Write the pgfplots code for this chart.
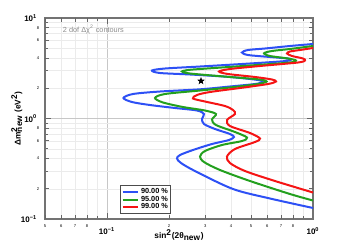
\documentclass[border=0pt]{standalone}
\usepackage{fontspec}
\setmainfont{Liberation Sans}
\usepackage{pgfplots}
\pgfplotsset{compat=1.18}
\definecolor{cblue}{RGB}{45,80,245}
\definecolor{cgreen}{RGB}{35,160,30}
\definecolor{cred}{RGB}{245,20,20}
\pgfdeclareplotmark{fivestar}{%
  \pgfpathmoveto{\pgfpointpolar{90}{\pgfplotmarksize}}%
  \pgfpathlineto{\pgfpointpolar{126}{0.4\pgfplotmarksize}}%
  \pgfpathlineto{\pgfpointpolar{162}{\pgfplotmarksize}}%
  \pgfpathlineto{\pgfpointpolar{198}{0.4\pgfplotmarksize}}%
  \pgfpathlineto{\pgfpointpolar{234}{\pgfplotmarksize}}%
  \pgfpathlineto{\pgfpointpolar{270}{0.4\pgfplotmarksize}}%
  \pgfpathlineto{\pgfpointpolar{306}{\pgfplotmarksize}}%
  \pgfpathlineto{\pgfpointpolar{342}{0.4\pgfplotmarksize}}%
  \pgfpathlineto{\pgfpointpolar{18}{\pgfplotmarksize}}%
  \pgfpathlineto{\pgfpointpolar{54}{0.4\pgfplotmarksize}}%
  \pgfpathclose\pgfusepathqfillstroke}
\begin{document}
\begin{tikzpicture}
\begin{axis}[
  scale only axis, width=160.8pt, height=120.6pt,
  xmode=log, ymode=log, xmin=0.05, xmax=1, ymin=0.1, ymax=10,
  axis line style={draw=black!55, line width=0.9pt},
  tick align=inside,
  tick style={black!60, line width=0.4pt},
  major tick length=3.6pt, minor tick length=2pt,
  xtick={0.1,1}, xticklabels={10\textsuperscript{−1},10\textsuperscript{0}},
  ytick={0.1,1,10}, yticklabels={10\textsuperscript{−1},10\textsuperscript{0},10\textsuperscript{1}},
  minor xtick={0.06,0.07,0.08,0.09,0.2,0.3,0.4,0.5,0.6,0.7,0.8,0.9},
  minor ytick={0.2,0.3,0.4,0.5,0.6,0.7,0.8,0.9,2,3,4,5,6,7,8,9},
  grid=both,
  major grid style={black!22, line width=0.4pt},
  minor grid style={black!8, line width=0.3pt},
  tick label style={font=\fontsize{4.8}{5}\selectfont\bfseries},
  xticklabel style={yshift=-1.5pt},
  yticklabel style={xshift=-1.2pt},
  extra x ticks={0.05,0.06,0.07,0.08,0.2,0.3,0.4,0.5,0.6,0.7,0.8},
  extra x tick labels={5,6,7,8,2,3,4,5,6,7,8},
  extra x tick style={grid=none, major tick length=2.4pt,
     tick label style={font=\fontsize{2.5}{3}\selectfont, yshift=1.5pt}},
  extra y ticks={0.2,0.4,0.6,0.8,2,4,6,8},
  extra y tick labels={2,4,6,8,2,4,6,8},
  extra y tick style={grid=none, major tick length=2.4pt,
     tick label style={font=\fontsize{2.5}{3}\selectfont, xshift=1.2pt}},
  xlabel={sin\textsuperscript{2}(2θ\textsubscript{new})},
  ylabel={Δm\rlap{\textsuperscript{2}}\textsubscript{new} (eV\textsuperscript{2})},
  label style={font=\fontsize{5}{6}\selectfont\bfseries},
  xlabel style={at={(axis description cs:0.5,-0.08)}, anchor=center},
  ylabel style={at={(axis description cs:-0.105,0.5)}, anchor=center},
  legend style={at={(0.28,0.025)}, anchor=south west, draw=black!70, line width=0.6pt,
     fill=white, font=\fontsize{4.4}{4.6}\selectfont\bfseries, inner xsep=0.6pt, inner ysep=0.4pt,
     row sep=-2pt, nodes={inner sep=1pt}, /tikz/every even column/.append style={column sep=0pt}},
  legend cell align=left,
  legend image code/.code={\draw[#1, line width=1.2pt] (0pt,0pt) -- (9.5pt,0pt);},
]
\coordinate (sw) at (rel axis cs:0,0);
\coordinate (ne) at (rel axis cs:1,1);
\addplot[cblue, line width=1.2pt, smooth] coordinates {
(1.0,5.512)(0.7733,5.265)(0.5848,4.972)(0.4836,4.804)(0.4522,4.536)(0.4836,4.283)(0.6184,4.091)(0.7562,3.954)(0.7821,3.865)(0.7395,3.734)(0.4945,3.526)(0.2828,3.291)(0.1912,3.144)(0.1653,3.003)(0.1808,2.836)(0.2529,2.741)(0.3954,2.588)(0.5408,2.416)(0.5719,2.307)(0.5229,2.204)(0.3954,2.082)(0.2828,1.952)(0.1808,1.856)(0.1337,1.753)(0.1202,1.600)(0.1322,1.459)(0.1617,1.362)(0.2138,1.272)(0.2734,1.201)(0.2957,1.109)(0.2891,0.9886)(0.2957,0.8816)(0.3344,0.7862)(0.3954,0.7012)(0.4135,0.6546)(0.3911,0.6109)(0.3234,0.5576)(0.2615,0.4859)(0.2261,0.4333)(0.2187,0.3999)(0.2287,0.3607)(0.2674,0.3003)(0.4089,0.1988)(0.6184,0.1600)(1.0,0.1287)};
\addlegendentry{90.00 \%}
\addplot[cgreen, line width=1.2pt, smooth] coordinates {
(1.0,5.265)(0.7733,4.916)(0.6323,4.696)(0.5783,4.454)(0.6184,4.187)(0.7562,3.954)(0.8269,3.777)(0.7733,3.608)(0.4945,3.367)(0.2828,3.108)(0.2473,3.038)(0.2312,2.936)(0.2529,2.804)(0.3954,2.588)(0.5530,2.444)(0.5947,2.334)(0.5408,2.204)(0.3954,2.034)(0.2828,1.899)(0.1912,1.753)(0.1710,1.600)(0.1870,1.443)(0.2338,1.301)(0.2990,1.201)(0.3381,1.109)(0.3234,0.9774)(0.3381,0.8616)(0.4181,0.7339)(0.4782,0.6472)(0.4522,0.5971)(0.3616,0.5450)(0.2990,0.4749)(0.2828,0.4187)(0.2957,0.3691)(0.3536,0.3073)(0.4945,0.2388)(0.7733,0.1773)(1.0,0.1528)};
\addlegendentry{95.00 \%}
\addplot[cred, line width=1.2pt, smooth] coordinates {
(1.0,5.029)(0.8647,4.804)(0.7733,4.642)(0.7479,4.434)(0.7908,4.187)(0.8942,3.954)(0.9145,3.777)(0.8457,3.608)(0.5530,3.330)(0.3954,3.108)(0.3497,2.936)(0.3867,2.772)(0.5229,2.588)(0.6323,2.444)(0.6613,2.334)(0.6047,2.204)(0.4422,2.011)(0.3162,1.835)(0.2734,1.713)(0.2615,1.581)(0.2990,1.476)(0.3739,1.331)(0.4089,1.215)(0.4181,1.109)(0.3824,0.9662)(0.3954,0.8420)(0.4945,0.7176)(0.5530,0.6325)(0.5229,0.5839)(0.4181,0.4972)(0.3824,0.4187)(0.3954,0.3607)(0.4676,0.3003)(0.6539,0.2388)(1.0,0.1835)};
\addlegendentry{99.00 \%}
\addplot[only marks, mark=fivestar, mark size=1.8pt, black, forget plot] coordinates {(0.286,2.361)};
\node[anchor=west, text=black!45, font=\fontsize{4.4}{5}\selectfont] at (rel axis cs:0.045,0.943) {2 dof Δχ\textsuperscript{2} contours};
\end{axis}
\pgfresetboundingbox
\path ([shift={(-27pt,-16.2pt)}]sw) rectangle ([shift={(19.8pt,10.8pt)}]ne);
\end{tikzpicture}
\end{document}
